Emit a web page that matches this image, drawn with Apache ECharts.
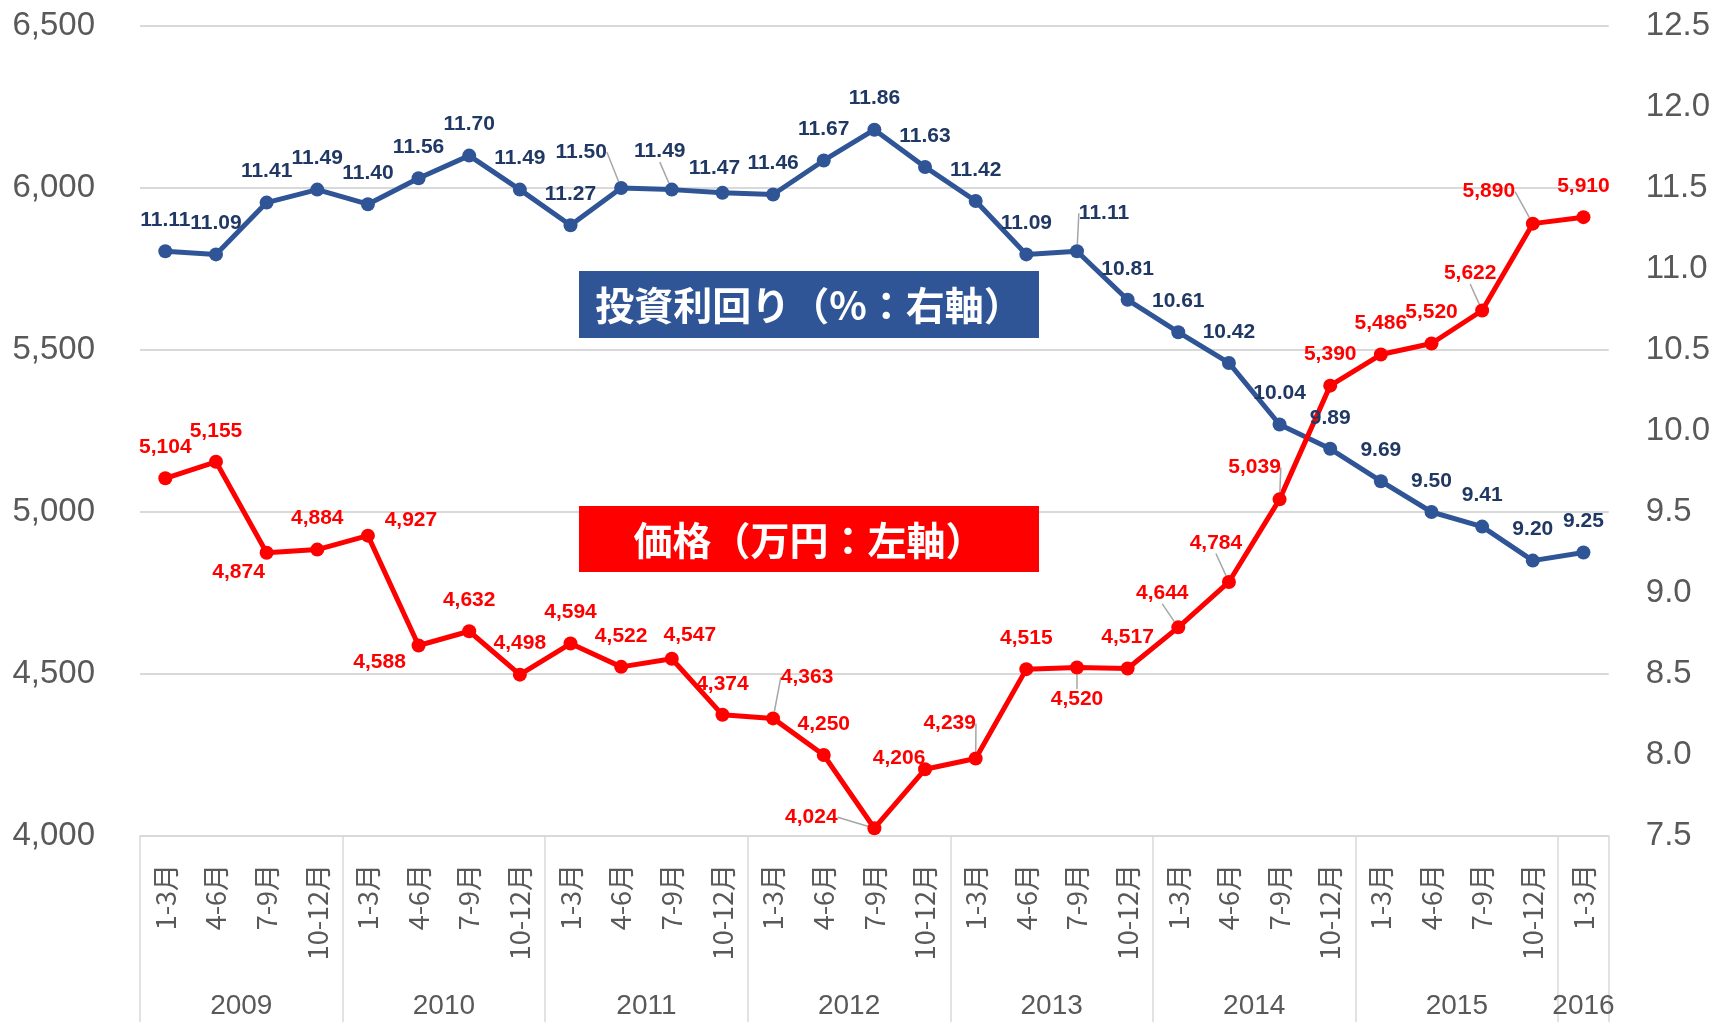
<!DOCTYPE html>
<html>
<head>
<meta charset="utf-8">
<script src="https://cdn.jsdelivr.net/npm/echarts@6/dist/echarts.min.js"></script>
<style>
    html, body { margin: 0; padding: 0; background: #fff; }
    #chart { width: 1713px; height: 1022px; }
</style>
</head>
<body>
<div id="chart"></div>
<script>
// data
var quarterNames = ['1-3月', '4-6月', '7-9月', '10-12月'];
var years = ['2009', '2010', '2011', '2012', '2013', '2014', '2015', '2016'];
var quartersPerYear = [4, 4, 4, 4, 4, 4, 4, 1];

var priceValues = [5104, 5155, 4874, 4884, 4927, 4588, 4632, 4498, 4594, 4522, 4547, 4374,
    4363, 4250, 4024, 4206, 4239, 4515, 4520, 4517, 4644, 4784, 5039, 5390,
    5486, 5520, 5622, 5890, 5910];
var yieldValues = [11.11, 11.09, 11.41, 11.49, 11.40, 11.56, 11.70, 11.49, 11.27, 11.50, 11.49, 11.47,
    11.46, 11.67, 11.86, 11.63, 11.42, 11.09, 11.11, 10.81, 10.61, 10.42, 10.04, 9.89,
    9.69, 9.50, 9.41, 9.20, 9.25];

var priceAxis = {min: 4000, max: 6500, step: 500};
var yieldAxis = {min: 7.5, max: 12.5, step: 0.5};

// label placement (offset of label centre from point), leader line flag
var yieldMoves = {9: [-40, -36, 1], 10: [-12, -38, 1], 11: [-8, -25], 18: [27, -38, 1]};
var priceMoves = {
    2: [-28, 19], 4: [43, -15], 5: [-39, 17], 10: [18, -24],
    12: [34, -41, 1], 14: [-63, -11, 1], 15: [-26, -11], 16: [-26, -35, 1],
    18: [0, 32, 1], 20: [-16, -34, 1], 21: [-13, -39, 1], 22: [-25, -32, 1],
    26: [-12, -37, 1], 27: [-44, -32, 1]
};

var categories = [];
var boundaries = [0];
var yearCenters = [];
var pos = 0;
for (var y = 0; y < years.length; y++) {
    for (var q = 0; q < quartersPerYear[y]; q++) {
        categories.push(quarterNames[q]);
    }
    yearCenters.push(pos + quartersPerYear[y] / 2);
    pos += quartersPerYear[y];
    boundaries.push(pos);
}

function buildData(values, moves) {
    return values.map(function (v, i) {
        var m = moves[i];
        if (m && m[2]) {
            return {value: v, labelLine: {show: true}};
        }
        return v;
    });
}

function makeLayout(moves) {
    return function (p) {
        var m = moves[p.dataIndex] || [0, -31];
        return {
            x: p.rect.x + p.rect.width / 2 + m[0],
            y: p.rect.y + p.rect.height / 2 + m[1],
            align: 'center',
            verticalAlign: 'middle'
        };
    };
}

var gray = '#595959';
var gridGray = '#D9D9D9';
var labelFont = '"Liberation Sans", Arial, sans-serif';
var cjkFont = '"Noto Sans CJK JP", "Noto Sans", sans-serif';

var chart = echarts.init(document.getElementById('chart'), null, {renderer: 'canvas'});

var option = {
    animation: false,
    backgroundColor: '#ffffff',
    grid: {left: 140, right: 104, top: 26, bottom: 186},
    xAxis: [
        {
            type: 'category',
            data: categories,
            position: 'bottom',
            axisLine: {onZero: false, lineStyle: {color: gridGray, width: 1.5}},
            axisTick: {show: false},
            axisLabel: {
                interval: 0,
                rotate: 90,
                margin: 28,
                color: gray,
                fontSize: 27,
                fontFamily: cjkFont
            }
        },
        {
            type: 'value',
            position: 'bottom',
            min: 0,
            max: categories.length,
            axisLine: {show: false, onZero: false},
            splitLine: {show: false},
            axisTick: {
                show: true,
                customValues: boundaries,
                length: 186,
                lineStyle: {color: gridGray, width: 1.5}
            },
            axisLabel: {
                customValues: yearCenters,
                margin: 156,
                color: gray,
                fontSize: 28,
                fontFamily: labelFont,
                formatter: function (v) {
                    var idx = yearCenters.indexOf(v);
                    return idx >= 0 ? years[idx] : '';
                }
            }
        }
    ],
    yAxis: [
        {
            type: 'value',
            min: priceAxis.min,
            max: priceAxis.max,
            interval: priceAxis.step,
            axisLine: {show: false},
            axisTick: {show: false},
            splitLine: {lineStyle: {color: gridGray, width: 2}},
            axisLabel: {
                margin: 45,
                color: gray,
                fontSize: 33,
                fontFamily: labelFont,
                formatter: function (v) { return v.toLocaleString('en-US'); }
            }
        },
        {
            type: 'value',
            min: yieldAxis.min,
            max: yieldAxis.max,
            interval: yieldAxis.step,
            axisLine: {show: false},
            axisTick: {show: false},
            splitLine: {show: false},
            axisLabel: {
                margin: 37,
                color: gray,
                fontSize: 33,
                fontFamily: labelFont,
                formatter: function (v) { return v.toFixed(1); }
            }
        }
    ],
    series: [
        {
            name: '投資利回り',
            type: 'line',
            yAxisIndex: 1,
            data: buildData(yieldValues, yieldMoves),
            symbol: 'circle',
            symbolSize: 14,
            lineStyle: {color: '#2F5597', width: 5},
            itemStyle: {color: '#2F5597'},
            label: {
                show: true,
                position: 'top',
                color: '#203864',
                fontSize: 21,
                fontWeight: 'bold',
                fontFamily: labelFont,
                formatter: function (p) { return p.value.toFixed(2); }
            },
            labelLine: {show: false, lineStyle: {color: '#A6A6A6', width: 1.5}},
            labelLayout: makeLayout(yieldMoves)
        },
        {
            name: '価格',
            type: 'line',
            yAxisIndex: 0,
            data: buildData(priceValues, priceMoves),
            symbol: 'circle',
            symbolSize: 14,
            lineStyle: {color: '#FF0000', width: 5},
            itemStyle: {color: '#FF0000'},
            label: {
                show: true,
                position: 'top',
                color: '#FF0000',
                fontSize: 21,
                fontWeight: 'bold',
                fontFamily: labelFont,
                formatter: function (p) { return p.value.toLocaleString('en-US'); }
            },
            labelLine: {show: false, lineStyle: {color: '#A6A6A6', width: 1.5}},
            labelLayout: makeLayout(priceMoves)
        }
    ],
    graphic: [
        {
            type: 'rect',
            z: 100,
            x: 579, y: 271,
            shape: {width: 460, height: 67},
            style: {fill: '#2F5597'}
        },
        {
            type: 'text',
            z: 101,
            x: 809, y: 305,
            style: {
                text: '投資利回り（%：右軸）',
                fill: '#ffffff',
                font: 'bold 39px ' + cjkFont,
                align: 'center',
                verticalAlign: 'middle',
                textAlign: 'center',
                textVerticalAlign: 'middle'
            }
        },
        {
            type: 'rect',
            z: 100,
            x: 579, y: 506,
            shape: {width: 460, height: 66},
            style: {fill: '#FF0000'}
        },
        {
            type: 'text',
            z: 101,
            x: 809, y: 540,
            style: {
                text: '価格（万円：左軸）',
                fill: '#ffffff',
                font: 'bold 39px ' + cjkFont,
                align: 'center',
                verticalAlign: 'middle',
                textAlign: 'center',
                textVerticalAlign: 'middle'
            }
        }
    ]
};
chart.setOption(option);
</script>
</body>
</html>
